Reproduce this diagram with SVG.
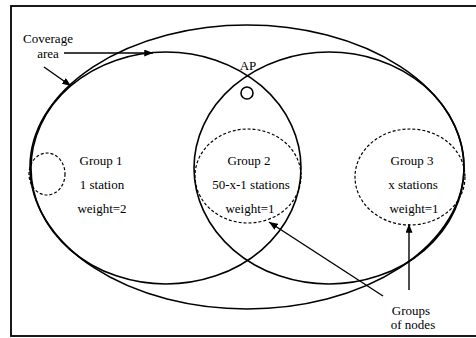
<svg xmlns="http://www.w3.org/2000/svg" width="476" height="338" viewBox="0 0 476 338">
<defs>
<marker id="ah" viewBox="0 0 10 8" refX="10" refY="4" markerWidth="9" markerHeight="7" markerUnits="userSpaceOnUse" orient="auto">
<path d="M0,0 L10,4 L0,8 z" fill="#000"/>
</marker>
</defs>
<style>
.t{font-family:"Liberation Serif","Times New Roman",serif;font-size:13px;fill:#000;text-anchor:middle}
.s{fill:none;stroke:#000;stroke-width:1.6}
.d{fill:none;stroke:#000;stroke-width:1.2;stroke-dasharray:3 2}
.c{fill:none;stroke:#000;stroke-width:1.4;marker-end:url(#ah)}
</style>
<rect width="476" height="338" fill="#fff"/>
<rect x="11" y="6" width="470" height="330" fill="none" stroke="#000" stroke-width="1.8"/>
<g id="coverage">
<ellipse class="s" cx="247" cy="167" rx="217" ry="142"/>
</g>
<g id="left-cell">
<ellipse class="s" cx="166" cy="168" rx="135" ry="116"/>
</g>
<g id="right-cell">
<ellipse class="s" cx="329" cy="168" rx="135" ry="116"/>
</g>
<g id="ap">
<circle class="s" cx="247" cy="93" r="6"/>
<text class="t" x="248" y="70">AP</text>
</g>
<g id="group1">
<ellipse class="d" cx="47" cy="174" rx="18" ry="21"/>
<text class="t" x="101" y="165">Group 1</text>
<text class="t" x="102" y="189">1 station</text>
<text class="t" x="102" y="213">weight=2</text>
</g>
<g id="group2">
<ellipse class="d" cx="248" cy="176" rx="53" ry="47"/>
<text class="t" x="249" y="165">Group 2</text>
<text class="t" x="251" y="189">50-x-1 stations</text>
<text class="t" x="250" y="213">weight=1</text>
</g>
<g id="group3">
<ellipse class="d" cx="410" cy="177" rx="55" ry="48"/>
<text class="t" x="412" y="165">Group 3</text>
<text class="t" x="413" y="189">x stations</text>
<text class="t" x="414" y="213">weight=1</text>
</g>
<g id="label-coverage">
<text class="t" x="48" y="43">Coverage</text>
<text class="t" x="48" y="58">area</text>
</g>
<g id="label-groups">
<text class="t" x="411" y="315">Groups</text>
<text class="t" x="413" y="329">of nodes</text>
</g>
<g id="connectors">
<line class="c" x1="64" y1="53" x2="153" y2="53"/>
<line class="c" x1="44" y1="67" x2="71" y2="86"/>
<line class="c" x1="383" y1="296" x2="269" y2="222"/>
<line class="c" x1="409" y1="290" x2="409" y2="224"/>
</g>
</svg>
